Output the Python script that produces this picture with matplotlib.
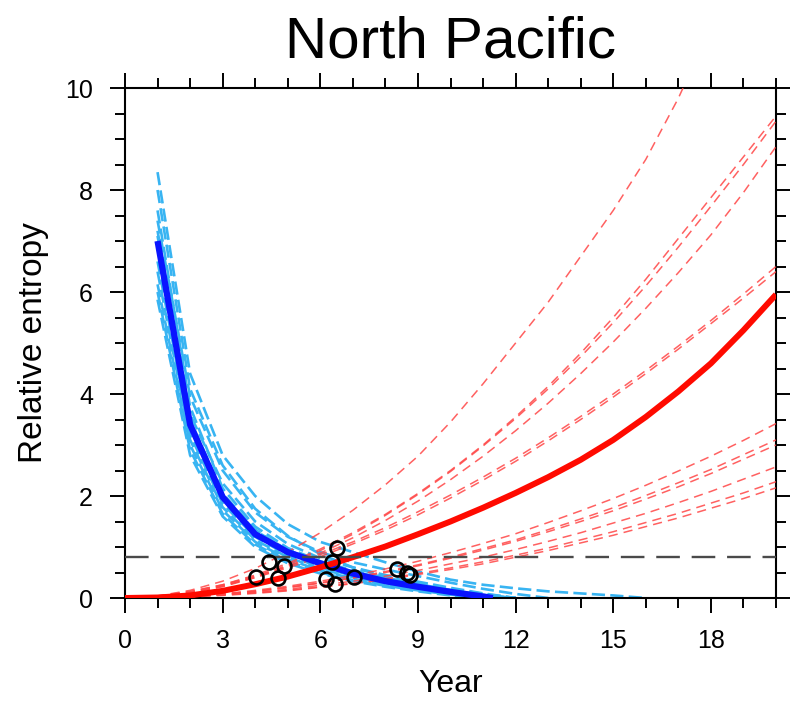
import matplotlib
matplotlib.use("Agg")
import matplotlib.pyplot as plt
from matplotlib.ticker import MultipleLocator

plt.rcParams["font.family"] = ["Liberation Sans", "DejaVu Sans"]

years = list(range(0, 21))

# ensemble mean curves
red_mean = [0, 0.01, 0.05, 0.14, 0.27, 0.42, 0.60, 0.80, 1.01, 1.25, 1.50,
            1.77, 2.06, 2.37, 2.71, 3.10, 3.55, 4.05, 4.60, 5.25, 5.95]
blue_mean_x = [1, 2, 3, 4, 5, 6, 7, 8, 9, 10, 11, 11.3]
blue_mean = [7.0, 3.4, 1.98, 1.25, 0.90, 0.68, 0.48, 0.33, 0.22, 0.12, 0.03, 0.0]

# red members, year 0..20
red_members = [
    [0, 0.04, 0.15, 0.33, 0.58, 0.90, 1.28, 1.72, 2.22, 2.78, 3.45,
     4.20, 5.00, 5.80, 6.70, 7.60, 8.60, 9.80, 11.2, 12.7, 14.3],
    [0, 0.03, 0.12, 0.26, 0.45, 0.68, 0.96, 1.28, 1.64, 2.05, 2.50,
     3.00, 3.55, 4.15, 4.80, 5.50, 6.25, 7.05, 7.85, 8.65, 9.45],
    [0, 0.02, 0.10, 0.23, 0.42, 0.65, 0.93, 1.25, 1.62, 2.03, 2.48,
     2.98, 3.52, 4.10, 4.73, 5.40, 6.12, 6.88, 7.68, 8.50, 9.35],
    [0, 0.02, 0.10, 0.22, 0.40, 0.62, 0.88, 1.18, 1.52, 1.90, 2.32,
     2.78, 3.28, 3.82, 4.40, 5.02, 5.68, 6.38, 7.12, 7.95, 8.85],
    [0, 0.04, 0.13, 0.26, 0.43, 0.62, 0.85, 1.10, 1.38, 1.69, 2.02,
     2.37, 2.74, 3.14, 3.56, 4.00, 4.46, 4.94, 5.44, 5.96, 6.50],
    [0, 0.03, 0.11, 0.24, 0.40, 0.59, 0.81, 1.06, 1.33, 1.63, 1.96,
     2.31, 2.68, 3.08, 3.50, 3.94, 4.40, 4.88, 5.38, 5.88, 6.40],
    [0, 0.01, 0.04, 0.08, 0.15, 0.23, 0.33, 0.44, 0.57, 0.72, 0.89,
     1.07, 1.26, 1.48, 1.71, 1.95, 2.21, 2.49, 2.78, 3.09, 3.42],
    [0, 0.01, 0.03, 0.08, 0.13, 0.21, 0.30, 0.40, 0.52, 0.65, 0.80,
     0.97, 1.14, 1.34, 1.55, 1.77, 2.01, 2.26, 2.52, 2.81, 3.10],
    [0, 0.01, 0.03, 0.07, 0.13, 0.20, 0.29, 0.39, 0.50, 0.63, 0.78,
     0.94, 1.11, 1.30, 1.50, 1.71, 1.94, 2.18, 2.44, 2.72, 3.00],
    [0, 0.01, 0.03, 0.06, 0.11, 0.17, 0.25, 0.33, 0.43, 0.54, 0.67,
     0.80, 0.95, 1.11, 1.28, 1.47, 1.66, 1.87, 2.09, 2.33, 2.57],
    [0, 0.01, 0.03, 0.06, 0.10, 0.15, 0.22, 0.29, 0.38, 0.48, 0.59,
     0.71, 0.84, 0.98, 1.14, 1.30, 1.48, 1.66, 1.86, 2.06, 2.28],
    [0, 0.01, 0.02, 0.05, 0.09, 0.14, 0.21, 0.28, 0.36, 0.46, 0.56,
     0.67, 0.80, 0.93, 1.08, 1.23, 1.40, 1.57, 1.76, 1.95, 2.16],
]

# blue members, starting at year 1
blue_members = [
    [8.35, 4.4, 2.8, 2.0, 1.45, 1.1, 0.9, 0.7, 0.52, 0.36, 0.26, 0.19, 0.13, 0.09, 0.05, 0.0],
    [7.4, 3.95, 2.5, 1.68, 1.2, 0.9, 0.7, 0.56, 0.43, 0.3, 0.18, 0.08, 0.0],
    [7.1, 3.6, 2.25, 1.5, 1.06, 0.78, 0.6, 0.45, 0.32, 0.2, 0.09, 0.0],
    [6.9, 3.4, 2.0, 1.32, 0.94, 0.7, 0.52, 0.38, 0.26, 0.15, 0.05, 0.0],
    [7.6, 3.75, 2.15, 1.4, 0.98, 0.72, 0.54, 0.4, 0.27, 0.16, 0.06, 0.0],
    [6.6, 3.2, 1.85, 1.2, 0.84, 0.6, 0.44, 0.31, 0.2, 0.1, 0.02],
    [6.15, 3.0, 1.72, 1.1, 0.76, 0.54, 0.38, 0.26, 0.16, 0.07, 0.0],
    [5.85, 2.8, 1.6, 1.0, 0.68, 0.48, 0.33, 0.22, 0.13, 0.05, 0.0],
    [8.0, 4.1, 2.6, 1.75, 1.22, 0.86, 0.6, 0.42, 0.29, 0.18, 0.08, 0.0],
    [6.4, 3.1, 1.78, 1.14, 0.8, 0.57, 0.41, 0.29, 0.18, 0.09, 0.02, 0.0],
    [7.2, 3.5, 2.05, 1.34, 0.92, 0.66, 0.48, 0.34, 0.22, 0.12, 0.04, 0.0],
    [6.0, 2.9, 1.65, 1.05, 0.72, 0.5, 0.35, 0.24, 0.15, 0.07, 0.01, 0.0],
]

# crossing points
cross_x = [4.03, 4.42, 4.70, 4.89, 6.52, 6.35, 6.16, 6.45, 7.04, 8.35, 8.66, 8.75]
cross_y = [0.42, 0.70, 0.39, 0.63, 0.99, 0.70, 0.37, 0.27, 0.42, 0.57, 0.50, 0.46]

threshold = 0.8

fig = plt.figure(figsize=(7.9, 7.02), dpi=100)
ax = fig.add_axes([125 / 790, 104 / 702, 651 / 790, 510 / 702])

for vals in blue_members:
    ax.plot(years[1:1 + len(vals)], vals, color="#38b4f2", linewidth=1.9,
            dashes=(5, 2), zorder=2)
for vals in red_members:
    ax.plot(years, vals, color="#ff4545", linewidth=1.1, alpha=0.85,
            dashes=(6, 4), zorder=3)
ax.plot(blue_mean_x, blue_mean, color="#0a14ff", linewidth=4.5, zorder=4,
        solid_capstyle="butt", solid_joinstyle="round")
ax.plot(years, red_mean, color="#ff0a00", linewidth=4.3, zorder=5,
        solid_capstyle="butt", solid_joinstyle="round")
ax.axhline(threshold, color="#4a4a4a", linewidth=1.7, dashes=(10, 5), zorder=6)
ax.plot(cross_x, cross_y, linestyle="none", marker="o", markersize=10,
        markerfacecolor="none", markeredgecolor="black", markeredgewidth=1.9,
        zorder=7)

ax.set_xlim(0, 20)
ax.set_ylim(0, 10)
ax.xaxis.set_major_locator(MultipleLocator(3))
ax.xaxis.set_minor_locator(MultipleLocator(1))
ax.yaxis.set_major_locator(MultipleLocator(2))
ax.yaxis.set_minor_locator(MultipleLocator(0.5))
ax.tick_params(which="both", direction="out", top=True, right=True,
               width=1.4, labelsize=18, color="black")
ax.tick_params(which="major", length=11)
ax.tick_params(which="minor", length=7)
ax.tick_params(axis="x", which="major", pad=11)
ax.tick_params(axis="y", which="major", pad=12)
for spine in ax.spines.values():
    spine.set_linewidth(1.5)

ax.set_xlabel("Year", fontsize=23, labelpad=12)
ax.set_ylabel("Relative entropy", fontsize=24, labelpad=12)
fig.text((125 + 776) / 2 / 790, 1 - 58 / 702, "North Pacific", fontsize=42,
         ha="center", va="baseline")

fig.savefig("out.png", dpi=100)
